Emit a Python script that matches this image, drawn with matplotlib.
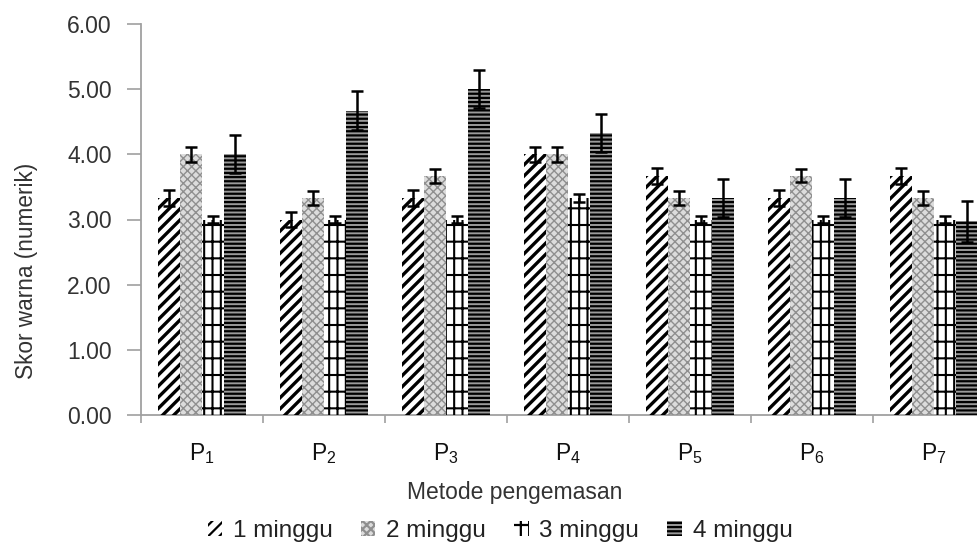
import matplotlib
matplotlib.use("Agg")
import matplotlib.pyplot as plt
from matplotlib.patches import Patch
import numpy as np

plt.rcParams['font.family'] = ['Liberation Sans', 'DejaVu Sans']
plt.rcParams['mathtext.fontset'] = 'custom'
plt.rcParams['mathtext.rm'] = 'Liberation Sans'
plt.rcParams['mathtext.it'] = 'Liberation Sans:italic'
plt.rcParams['hatch.linewidth'] = 1.6

categories = ["P$_{\\mathrm{1}}$", "P$_{\\mathrm{2}}$", "P$_{\\mathrm{3}}$", "P$_{\\mathrm{4}}$",
              "P$_{\\mathrm{5}}$", "P$_{\\mathrm{6}}$", "P$_{\\mathrm{7}}$"]
series_names = ["1 minggu", "2 minggu", "3 minggu", "4 minggu"]
minggu1 = [3.33, 3.00, 3.33, 4.00, 3.67, 3.33, 3.67]
minggu2 = [4.00, 3.33, 3.67, 4.00, 3.33, 3.67, 3.33]
minggu3 = [3.00, 3.00, 3.00, 3.33, 3.00, 3.00, 3.00]
minggu4 = [4.00, 4.67, 5.00, 4.33, 3.33, 3.33, 2.97]
err1 = [0.12, 0.12, 0.12, 0.12, 0.12, 0.12, 0.12]
err2 = [0.12, 0.10, 0.11, 0.12, 0.11, 0.10, 0.11]
err3 = [0.05, 0.05, 0.05, 0.06, 0.05, 0.05, 0.05]
err4 = [0.29, 0.30, 0.29, 0.29, 0.29, 0.29, 0.32]
yticks = [0, 1, 2, 3, 4, 5, 6]

values = [minggu1, minggu2, minggu3, minggu4]
errors = [err1, err2, err3, err4]
styles = [
    dict(facecolor='white', hatch='///', hatchcolor='black', hlw=2.4),
    dict(facecolor='#dcdcdc', hatch='xxxx', hatchcolor='#8f8f8f', hlw=1.0),
    dict(facecolor='white', hatch='+|', hatchcolor='black', hlw=1.5),
    dict(facecolor='#9a9a9a', hatch='----', hatchcolor='black', hlw=1.6),
]

fig = plt.figure(figsize=(9.77, 5.46), dpi=100)
ax = fig.add_axes([141/977, 1 - 415/546, 854/977, 391/546])

x = np.arange(len(categories)) + 0.5
w = 0.18
offsets = [-1.5 * w, -0.5 * w, 0.5 * w, 1.5 * w]
for vals, errs, off, st in zip(values, errors, offsets, styles):
    ax.bar(x + off, vals, width=w, color=st['facecolor'], linewidth=0, zorder=2)
    bars = ax.bar(x + off, vals, width=w, facecolor='none', edgecolor=st['hatchcolor'],
                  hatch=st['hatch'], linewidth=0, zorder=3)
    for p in bars:
        if hasattr(p, 'set_hatch_linewidth'):
            p.set_hatch_linewidth(st['hlw'])
    ax.errorbar(x + off, vals, yerr=errs, fmt='none', ecolor='black', elinewidth=1.8,
                capsize=4, capthick=1.8, zorder=4)

ax.set_xlim(0, 7)
ax.set_ylim(0, 6)
ax.set_yticks(yticks)
ax.set_yticklabels([f"{v:.2f}" for v in yticks], fontsize=16.5, color='#333333')
ax.set_xticks(np.arange(0, 8))
ax.set_xticklabels([])
ax.set_xticks(x, minor=True)
ax.set_xticklabels(categories, minor=True, fontsize=16.5, color='#111111')
ax.tick_params(axis='x', which='minor', length=0, pad=19)
ax.tick_params(axis='x', which='major', length=6, color='#a0a0a0', width=1.2)
ax.tick_params(axis='y', length=10, color='#a0a0a0', width=1.2, pad=11)
for s in ['top', 'right']:
    ax.spines[s].set_visible(False)
for s in ['left', 'bottom']:
    ax.spines[s].set_color('#a0a0a0')
    ax.spines[s].set_linewidth(1.3)

fig.text(27/977, 1 - 271/546, "Skor warna (numerik)", rotation=90, color='#333333',
         ha='center', va='center', fontsize=16.3)
fig.text(515/977, 1 - 499/546, "Metode pengemasan", fontsize=16.5, color='#333333',
         ha='center', va='baseline')

leg_handles = []
for st, name in zip(styles, series_names):
    ph = Patch(facecolor=st['facecolor'], edgecolor=st['hatchcolor'],
               hatch=st['hatch'], linewidth=0, label=name)
    leg_handles.append(ph)
leg = fig.legend(handles=leg_handles, loc='center', bbox_to_anchor=(500/977, 1 - 531/546),
                 ncol=4, frameon=False, fontsize=17.5, handlelength=0.6, handleheight=0.6,
                 handletextpad=0.45, columnspacing=1.15, labelcolor='#222222')

fig.savefig("out.png", dpi=100)
